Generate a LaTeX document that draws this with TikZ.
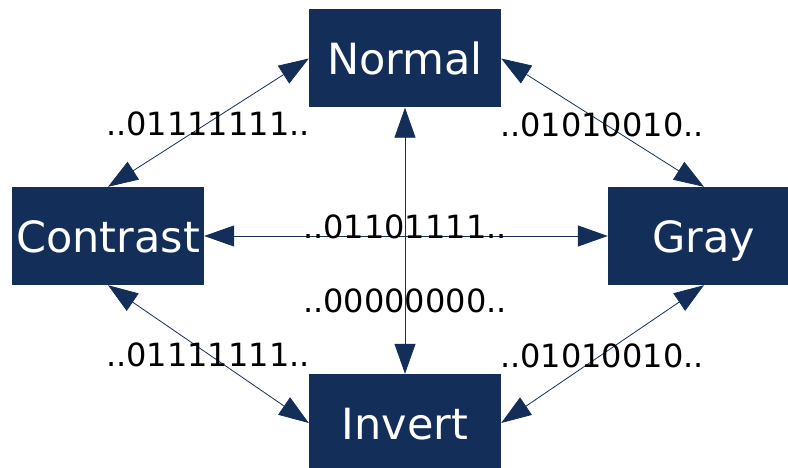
\documentclass[tikz,border=0pt]{standalone}
\usepackage{fontspec}
\setmainfont{DejaVu Sans}
\usetikzlibrary{arrows.meta}
\definecolor{navy}{RGB}{19,46,89}
\tikzset{
  statebox/.style={fill=navy, draw=none, text=white, inner sep=0pt,
    minimum width=192pt, minimum height=98pt,
    text height=33pt, text depth=0pt, font=\fontsize{43pt}{48pt}\selectfont},
  bits/.style={anchor=base, inner sep=0pt, text=black,
    font=\fontsize{32pt}{36pt}\selectfont},
  link/.style={draw=navy, line width=0.8pt,
    {Triangle[length=30pt,width=21pt]}-{Triangle[length=30pt,width=21pt]}}
}
\begin{document}
\begin{tikzpicture}[x=1pt,y=-1pt]
  \useasboundingbox (0,0) rectangle (788,468);
  % the four states
  \node[statebox] (normal)   at (405,58.5) {Normal};
  \node[statebox] (contrast) at (108,236)  {Contrast};
  \node[statebox] (gray)     at (704,236)  {Gray};
  \node[statebox] (invert)   at (405,423)  {Invert};
  % transitions between states
  \draw[link] (normal.west)   -- (contrast.north);
  \draw[link] (normal.east)   -- (gray.north);
  \draw[link] (contrast.south) -- (invert.west);
  \draw[link] (gray.south)    -- (invert.east);
  \draw[link] (normal.south)  -- (invert.north);
  \draw[link] (contrast.east) -- (gray.west);
  % bit patterns
  \node[bits] (b1) at (208,136) {..01111111..};
  \node[bits] (b2) at (602,137) {..01010010..};
  \node[bits] (b3) at (405,239) {..01101111..};
  \node[bits] (b4) at (405,312) {..00000000..};
  \node[bits] (b5) at (208,366) {..01111111..};
  \node[bits] (b6) at (602,367) {..01010010..};
\end{tikzpicture}
\end{document}
